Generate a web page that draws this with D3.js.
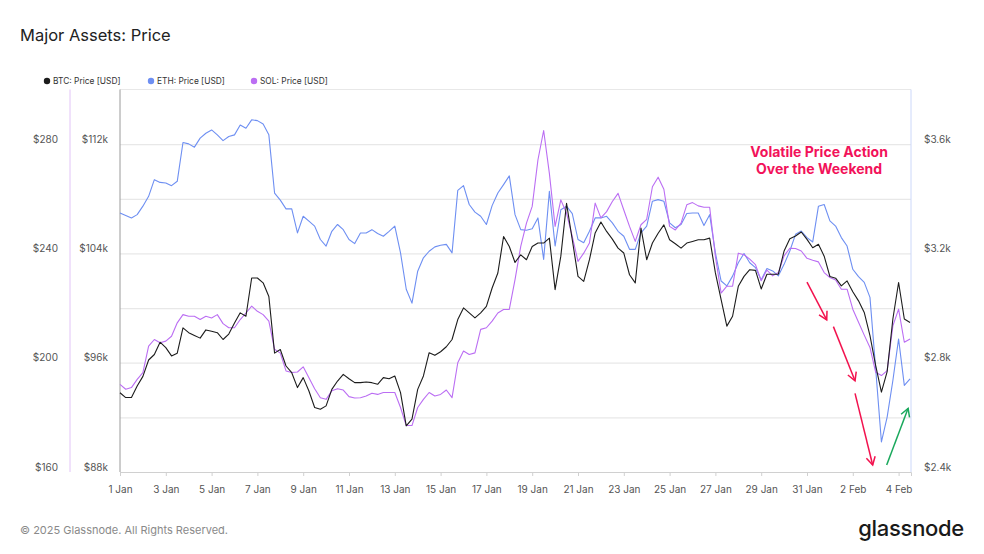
<!DOCTYPE html>
<html><head><meta charset="utf-8">
<script src="https://cdn.jsdelivr.net/npm/d3@7"></script>
<style>
body{margin:0;background:#fff;}
svg{display:block;font-family:Inter,"Noto Sans",sans-serif;}
</style>
</head><body><svg id="c" width="984" height="554"></svg>
<script>
// ---- data (6-hourly samples, starting 1 Jan 2025 00:00 UTC) ----
const startDate = "2025-01-01T00:00:00Z";
const stepHours = 6;
const btcPrice = [93800,93450,93450,94300,95000,96200,96600,97500,97100,96500,96700,98550,98200,98000,97800,98400,98300,98200,97700,98100,98900,99650,99400,102200,102200,101850,100850,96700,
96970,95760,95270,94180,94910,93930,92720,92600,92840,94050,94660,95150,94830,94540,94540,94590,94540,94420,94910,94830,95030,93810,91380,91870,94050,95030,96730,96540,
96800,97170,97700,99160,100010,99650,99280,99650,100130,101470,102570,105240,104510,103340,103900,103540,104510,104760,104760,105120,101350,103800,107670,105000,102320,101960,103540,105500,
106300,105610,105050,104390,104030,102440,101840,105850,103540,104760,105480,106090,105000,104710,104390,104760,104880,105000,105000,105120,102570,100620,98680,99400,101590,102320,102810,102760,
101400,102480,102480,102480,104180,105080,105280,105570,105030,104420,104670,103800,102310,102190,101630,101990,101190,100530,99680,97980,95790,93850,95350,99200,101870,99200,98950];
const ethPrice = [3348,3339,3330,3342,3373,3409,3470,3460,3458,3448,3464,3606,3601,3589,3622,3640,3652,3634,3613,3628,3634,3670,3658,3689,3686,3674,3634,3421,
3395,3363,3363,3275,3336,3318,3300,3251,3227,3281,3306,3287,3251,3236,3275,3275,3287,3273,3263,3281,3300,3202,3069,3018,3135,3184,3208,3224,
3230,3233,3202,3431,3448,3379,3351,3336,3306,3375,3421,3452,3484,3342,3287,3285,3290,3330,3178,3427,3227,3360,3373,3346,3251,3239,3281,3330,
3330,3336,3312,3281,3263,3215,3215,3275,3300,3391,3397,3391,3312,3294,3306,3346,3348,3348,3302,3342,3202,3099,3081,3117,3166,3200,3166,3148,
3103,3145,3136,3118,3160,3209,3270,3282,3258,3242,3373,3379,3319,3300,3258,3227,3142,3115,3094,3039,2777,2510,2601,2735,2887,2717,2741];
const solPrice = [192.1,190.3,190.9,193.9,196.4,206.1,208.5,207.3,207.9,209.7,214.6,217.6,217.0,217.0,215.8,217.0,216.4,217.6,214.3,212.8,212.8,215.8,218.2,220.7,218.8,217.6,215.2,204.9,
203.5,197.0,196.4,196.6,198.5,194.5,190.5,187.2,186.6,189.7,190.5,190.0,187.6,187.1,187.2,187.8,188.8,188.4,189.1,189.1,189.1,183.6,177.0,177.0,183.6,186.6,189.1,187.8,
188.4,190.0,187.2,200.0,204.3,203.0,203.6,212.2,212.8,215.2,218.2,219.5,219.5,230.4,242.6,251.1,257.2,274.2,285.0,269.3,249.9,259.6,254.7,246.2,237.1,240.1,243.8,258.4,
253.0,255.3,259.0,262.0,255.9,249.9,244.4,250.5,252.5,264.4,267.9,263.5,249.9,248.6,251.1,257.8,258.6,257.4,256.9,256.9,238.9,225.5,228.0,228.0,240.1,239.5,237.9,235.9,
230.0,233.9,231.8,233.0,239.1,241.9,241.8,240.9,238.2,237.5,236.9,233.0,231.2,230.3,226.9,226.9,219.6,214.8,210.1,205.6,196.5,195.3,197.1,213.5,219.6,207.5,208.7];

const xTickDates = ["2025-01-01","2025-01-03","2025-01-05","2025-01-07","2025-01-09","2025-01-11","2025-01-13","2025-01-15","2025-01-17","2025-01-19","2025-01-21","2025-01-23","2025-01-25","2025-01-27","2025-01-29","2025-01-31","2025-02-02","2025-02-04"];
const btcGrid = [88000,92000,96000,100000,104000,108000,112000];
const btcTicks = [88000,96000,104000,112000];
const solTicks = [160,200,240,280];
const ethTicks = [2400,2800,3200,3600];
const seriesNames = ["BTC: Price [USD]","ETH: Price [USD]","SOL: Price [USD]"];
const seriesColors = ["#1c1c1c","#6e8ff2","#bb6ef3"];
// annotation anchors in data space: [date, btc value]
const downArrows = [
  [["2025-01-31T00:00:00Z",101900],["2025-01-31T20:40:00Z",99130]],
  [["2025-02-01T03:40:00Z",98640],["2025-02-02T02:20:00Z",94680]],
  [["2025-02-02T02:20:00Z",93760],["2025-02-02T20:50:00Z",88510]]
];
const upArrow = [["2025-02-03T11:30:00Z",88510],["2025-02-04T10:00:00Z",92660]];
const noteLines = ["Volatile Price Action","Over the Weekend"];
const noteAnchor = ["2025-01-31T12:40:00Z",111420];

// ---- layout ----
const svg = d3.select("#c");
const L = 120, R = 911, T = 89.5, B = 472;
const t0 = new Date(startDate);
const dates = btcPrice.map((_, i) => new Date(t0.getTime() + i * stepHours * 3600e3));

const x = d3.scaleUtc().domain([t0, new Date("2025-02-04T13:00:00Z")]).range([L, R]);
const yBTC = d3.scaleLinear().domain([88000,116000]).range([B, T]);
const yETH = d3.scaleLinear().domain([2400,3800]).range([B, T]);
const ySOL = d3.scaleLinear().domain([160,300]).range([B, T]);

// title
svg.append("text").attr("x",20).attr("y",41).attr("font-size",16.5).attr("fill","#222").text("Major Assets: Price");

// legend
const legX = [47,151,254];
seriesNames.forEach((n,i)=>{
  svg.append("circle").attr("cx",legX[i]).attr("cy",81).attr("r",3.2).attr("fill",seriesColors[i]);
  svg.append("text").attr("x",legX[i]+6).attr("y",84.2).attr("font-size",8.4).attr("fill","#333").text(n);
});

// grid
const grid = svg.append("g").attr("transform",`translate(${L},0)`)
  .call(d3.axisLeft(yBTC).tickValues(btcGrid).tickSize(-(R-L)).tickFormat(""));
grid.select(".domain").remove();
grid.selectAll("line").attr("stroke","#e8e8e8").attr("stroke-width",1.2);
svg.append("line").attr("x1",L).attr("x2",R).attr("y1",T).attr("y2",T).attr("stroke","#e8e8e8").attr("stroke-width",1.2);

// x axis
const xa = svg.append("g").attr("transform",`translate(0,${B})`)
  .call(d3.axisBottom(x).tickValues(xTickDates.map(d=>new Date(d+"T00:00:00Z"))).tickSize(4).tickPadding(10).tickFormat(d3.utcFormat("%-d %b")));
xa.select(".domain").attr("stroke","#d0d0d0");
xa.selectAll("line").attr("stroke","#d0d0d0");
xa.selectAll("text").attr("font-size",10).attr("fill","#555").attr("font-family","Inter, sans-serif");

// BTC axis (left inner)
const ba = svg.append("g").attr("transform",`translate(${L},0)`)
  .call(d3.axisLeft(yBTC).tickValues(btcTicks).tickSize(0).tickPadding(12).tickFormat(v=>"$"+(v/1000)+"k"));
ba.select(".domain").attr("stroke","#9a9a9a").attr("d",`M0,${T}V${B}`);
ba.selectAll("text").attr("font-size",10).attr("fill","#555").attr("dy","-0.2em").attr("font-family","Inter, sans-serif");

// SOL axis (left outer)
const sa = svg.append("g").attr("transform",`translate(70,0)`)
  .call(d3.axisLeft(ySOL).tickValues(solTicks).tickSize(0).tickPadding(12).tickFormat(v=>"$"+v));
sa.select(".domain").attr("stroke","#e2c4f7").attr("d",`M0,${T}V${B}`);
sa.selectAll("text").attr("font-size",10).attr("fill","#555").attr("dy","-0.2em").attr("font-family","Inter, sans-serif");

// ETH axis (right)
const ea = svg.append("g").attr("transform",`translate(${R},0)`)
  .call(d3.axisRight(yETH).tickValues(ethTicks).tickSize(0).tickPadding(13).tickFormat(v=>"$"+(v/1000)+"k"));
ea.select(".domain").attr("stroke","#ccd8fa").attr("d",`M0,${T}V${B}`);
ea.selectAll("text").attr("font-size",10).attr("fill","#555").attr("dy","-0.2em").attr("font-family","Inter, sans-serif");

// lines
const series = [
  {v:ethPrice, y:yETH, c:seriesColors[1]},
  {v:solPrice, y:ySOL, c:seriesColors[2]},
  {v:btcPrice, y:yBTC, c:seriesColors[0]}
];
series.forEach(s=>{
  const line = d3.line().x((d,i)=>x(dates[i])).y(d=>s.y(d)).curve(d3.curveLinear);
  svg.append("path").attr("d",line(s.v)).attr("fill","none").attr("stroke",s.c).attr("stroke-width",1.1).attr("stroke-linejoin","round");
});

// annotation
const defs = svg.append("defs");
[["red","#f2124e"],["green","#1aa85c"]].forEach(([id,col])=>{
  defs.append("marker").attr("id","ah-"+id).attr("viewBox","-9 -6 11 12").attr("refX",0).attr("refY",0)
    .attr("markerWidth",11).attr("markerHeight",12).attr("markerUnits","userSpaceOnUse").attr("orient","auto")
    .append("path").attr("d","M-8,-4.5L0,0L-8,4.5").attr("fill","none").attr("stroke",col).attr("stroke-width",1.5);
});
const pt = p => [x(new Date(p[0])), yBTC(p[1])];
downArrows.forEach(a=>{
  const [s,e] = [pt(a[0]),pt(a[1])];
  svg.append("line").attr("x1",s[0]).attr("y1",s[1]).attr("x2",e[0]).attr("y2",e[1])
    .attr("stroke","#f2124e").attr("stroke-width",1.5).attr("marker-end","url(#ah-red)");
});
{
  const [s,e] = [pt(upArrow[0]),pt(upArrow[1])];
  svg.append("line").attr("x1",s[0]).attr("y1",s[1]).attr("x2",e[0]).attr("y2",e[1])
    .attr("stroke","#1aa85c").attr("stroke-width",1.5).attr("marker-end","url(#ah-green)");
}
const na = pt(noteAnchor);
noteLines.forEach((t,i)=>{
  svg.append("text").attr("x",na[0]).attr("y",na[1]+5+i*16.5).attr("text-anchor","middle")
    .attr("font-size",14).attr("font-weight",700).attr("fill","#f2125a").text(t);
});

// footer
svg.append("text").attr("x",20).attr("y",534).attr("font-size",11).attr("fill","#8a8a8a").text("© 2025 Glassnode. All Rights Reserved.");
svg.append("text").attr("x",964).attr("y",536).attr("text-anchor","end").attr("font-size",22).attr("font-weight",500).attr("fill","#1a1a1a").attr("letter-spacing",-0.3).text("glassnode");
</script></body></html>
